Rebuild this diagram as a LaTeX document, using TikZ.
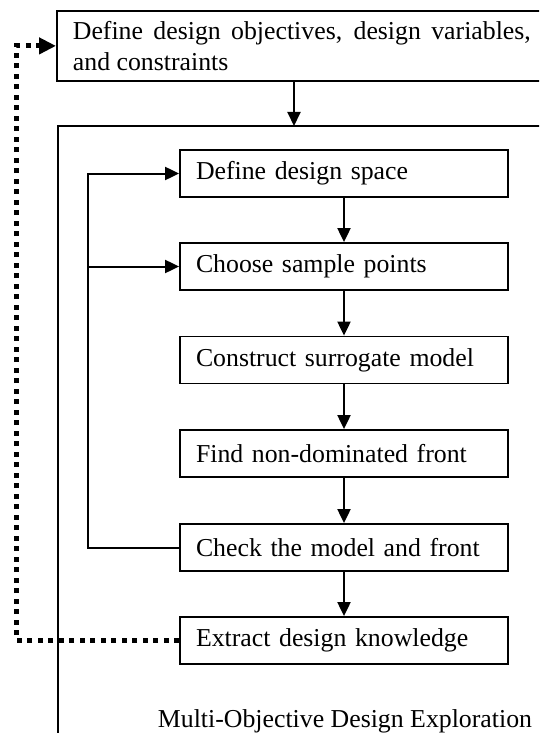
\documentclass[tikz,border=0pt]{standalone}
\usepackage{fontspec}
\setmainfont{Liberation Serif}
\usetikzlibrary{arrows.meta}
\tikzset{
  stepbox/.style={draw, line width=1.8pt, minimum width=328pt, minimum height=47pt,
    text width=296pt, inner xsep=16pt, align=left, font=\fontsize{25.8}{31}\selectfont},
  topbox/.style={draw, line width=1.8pt, minimum height=70pt, inner xsep=16pt,
    text width=458pt, align=justify, font=\fontsize{25.8}{31}\selectfont},
  conn/.style={line width=2pt},
  arr/.style={line width=2pt, -{Triangle[length=14pt,width=13pt]}},
  dotarr/.style={line width=5pt, dash pattern=on 5pt off 5.5pt,
    -{Triangle[length=17pt,width=16pt]}},
  lbl/.style={font=\fontsize{25.8}{31}\selectfont, inner sep=0pt}
}
\begin{document}
\begin{tikzpicture}[x=1pt,y=-1pt]
\clip (0,0) rectangle (539,733);
\fill[white] (0,0) rectangle (539,733);
% top box
\node[topbox, anchor=north west] (obj) at (56,10) {Define design objectives, design variables, and constraints};
% outer frame
\coordinate (frameTL) at (57.5,126);
\coordinate (a1) at (294,126);
\draw[conn] (57.5,760) -- (frameTL) -- (560,126);
\draw[arr] (obj.south -| a1) -- (a1);
% steps
\node[stepbox] (define) at (344,173.5) {Define design space};
\node[stepbox] (choose) at (344,266.5) {Choose sample points};
\node[stepbox] (constr) at (344,360) {Construct surrogate model};
\node[stepbox] (find) at (344,453.5) {Find non-dominated front};
\node[stepbox] (check) at (344,547.5) {Check the model and front};
\node[stepbox] (extract) at (344,640.5) {Extract design knowledge};
\draw[arr] (define) -- (choose);
\draw[arr] (choose) -- (constr);
\draw[arr] (constr) -- (find);
\draw[arr] (find) -- (check);
\draw[arr] (check) -- (extract);
% loop back
\coordinate (loopx) at (87.5,0);
\draw[arr] (check.west) -- (check.west -| loopx) |- (define.west);
\draw[arr] (choose.west -| loopx) -- (choose.west);
% dotted feedback
\coordinate (dotx) at (16.5,0);
\draw[dotarr] (extract.west) -- (extract.west -| dotx) |- (obj.west);
% label
\node[lbl, anchor=base] (mode) at (345,727) {Multi-Objective Design Exploration};
\end{tikzpicture}
\end{document}
